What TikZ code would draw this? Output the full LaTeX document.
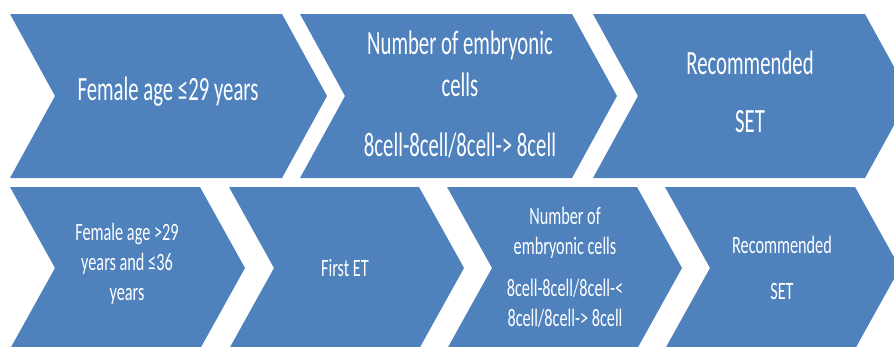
\documentclass[tikz,border=0pt]{standalone}
\usepackage{fontspec}
\setmainfont{Carlito}[FakeStretch=0.65]
\newfontfamily\tallfont{Carlito}[FakeStretch=0.61]
\definecolor{chevblue}{RGB}{79,129,189}
\tikzset{
  chev/.style={fill=chevblue},
  biglbl/.style={text=white, align=center, font=\tallfont\fontsize{34}{42}\selectfont},
  smalllbl/.style={text=white, align=center, font=\fontsize{25}{30}\selectfont}
}
\begin{document}
\begin{tikzpicture}[x=1pt,y=-1pt]
  \useasboundingbox (0,0) rectangle (894,346);
  \clip (0,0) rectangle (894,346);
  % top row
  \foreach \l in {10,300,593}
    \fill[chev] (\l,14) -- ++(272,0) -- ++(45,82) -- ++(-45,82) -- ++(-272,0) -- ++(45,-82) -- cycle;
  % bottom row
  \foreach \l in {10,229,447,665}
    \fill[chev] (\l,187) -- ++(190,0) -- ++(45,81) -- ++(-45,81) -- ++(-190,0) -- ++(45,-81) -- cycle;
  \node[biglbl] (young) at (168,92) {Female age ≤29 years};
  \node[biglbl] (cellsa) at (460,94) {Number of embryonic\\cells\\[18pt]8cell-8cell/8cell-> 8cell};
  \node[biglbl] (seta) at (750,92) {Recommended\\[16pt]SET};
  \node[smalllbl] (older) at (127,264) {Female age >29\\years and ≤36\\years};
  \node[smalllbl] (firstet) at (345,268) {First ET};
  \node[smalllbl] (cellsb) at (565,267) {Number of\\embryonic cells\\[12pt]8cell-8cell/8cell-<\\8cell/8cell-> 8cell};
  \node[smalllbl] (setb) at (782,268) {Recommended\\[16pt]SET};
\end{tikzpicture}
\end{document}
